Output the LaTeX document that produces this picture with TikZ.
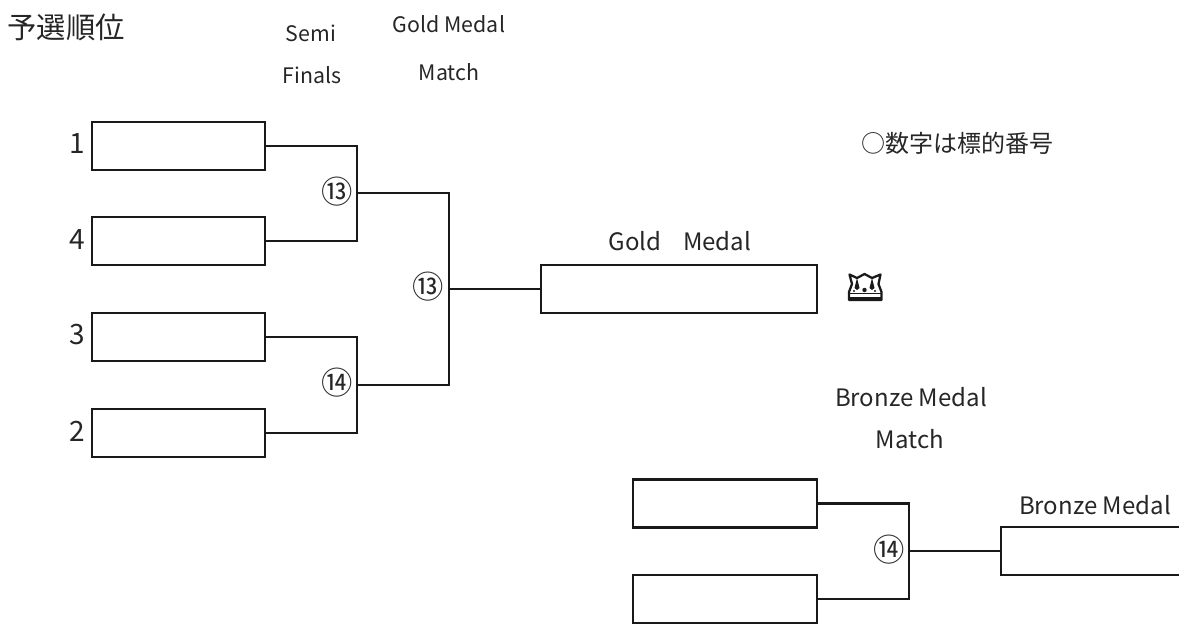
\documentclass[tikz,border=0pt]{standalone}
\usepackage{fontspec}
\setmainfont{Noto Sans CJK JP}
\tikzset{
  bx/.style={draw=black!90, line width=2pt, inner sep=0pt, outer sep=0pt, fill=white},
  wire/.style={draw=black!90, line width=1.9pt},
  lab/.style={inner sep=0pt, text=black!85, font=\fontsize{16}{18}\selectfont},
  big/.style={inner sep=0pt, text=black!85, font=\fontsize{18}{20}\selectfont},
  num/.style={inner sep=0pt, text=black!85, font=\fontsize{21}{24}\selectfont},
  circ/.style={inner sep=0pt, text=black!85, font=\fontsize{23.5}{26}\selectfont},
}
\begin{document}
\begin{tikzpicture}[x=0.75pt,y=-0.75pt]
\useasboundingbox (0,0) rectangle (1179,627);
\clip (0,0) rectangle (1179,627);
% boxes
\node[bx,minimum width=129.75pt,minimum height=36pt] (s1) at (178.5,146) {};
\node[bx,minimum width=129.75pt,minimum height=36pt] (s4) at (178.5,241) {};
\node[bx,minimum width=129.75pt,minimum height=36pt] (s3) at (178.5,337) {};
\node[bx,minimum width=129.75pt,minimum height=36pt] (s2) at (178.5,433) {};
\node[bx,minimum width=207pt,minimum height=36pt] (gold) at (679,289) {};
\node[bx,minimum width=138pt,minimum height=36pt] (b1) at (725,503.5) {};
\node[bx,minimum width=138pt,minimum height=36pt] (b2) at (725,599) {};
\node[bx,minimum width=165pt,minimum height=36pt] (bronze) at (1111,551) {};
% junctions
\coordinate (ja) at (357,193);
\coordinate (jb) at (357,385);
\coordinate (jc) at (449,289);
\coordinate (jd) at (909,551);
% connectors
\draw[wire] (s1.east) -| (ja) |- (s4.east);
\draw[wire] (s3.east) -| (jb) |- (s2.east);
\draw[wire] (ja) -| (jc) |- (jb);
\draw[wire] (jc) -- (gold.west);
\draw[wire] (b1.east) -| (jd) |- (b2.east);
\draw[wire] (jd) -- (bronze.west);
% seeds
\node[num] (n1) at (77,144) {1};
\node[num] (n4) at (77,240) {4};
\node[num] (n3) at (77,335) {3};
\node[num] (n2) at (77,431) {2};
% circled target numbers
\node[circ] (c1) at (337,191.5) {⑬};
\node[circ] (c2) at (428,287) {⑬};
\node[circ] (c3) at (337,383) {⑭};
\node[circ] (c4) at (889,550) {⑭};
% headings
\node[inner sep=0pt,text=black!85,font=\fontsize{22}{26}\selectfont] (head) at (66,27) {予選順位};
\node[lab] (semi1) at (311,33) {Semi};
\node[lab] (semi2) at (312,75) {Finals};
\node[lab] (gm1) at (449,24) {Gold Medal};
\node[lab] (gm2) at (449,72) {Match};
\node[big] (note) at (957,143) {○数字は標的番号};
\node[big] (gl) at (680,241) {Gold\hspace{0.9em}Medal};
\node[big] (bm1) at (911,397) {Bronze Medal};
\node[big] (bm2) at (910,439) {Match};
\node[big] (bl) at (1095,505) {Bronze Medal};
% crown
\draw[black!90,line width=1.7pt,line join=round,fill=white] (849.5,274.5) -- (857,278) -- (864.5,274) -- (872,278) -- (880.5,274.5) -- (878.5,284) -- (881.5,292) -- (881.5,300) -- (849,300) -- (849,292) -- (852,284) -- cycle;
\draw[black!90,line width=1.4pt] (849,293.5) -- (881.5,293.5);
\fill[black!90] (849,297.5) rectangle (881.5,301);
\fill[black!90] (857,278) -- (859.5,288) -- (857,290) -- (854.5,288) -- cycle;
\fill[black!90] (872,278) -- (874.5,288) -- (872,290) -- (869.5,288) -- cycle;
\fill[black!90] (864.5,290) circle (2.2) (854,291) circle (1.2) (875,291) circle (1.2);
\end{tikzpicture}
\end{document}
